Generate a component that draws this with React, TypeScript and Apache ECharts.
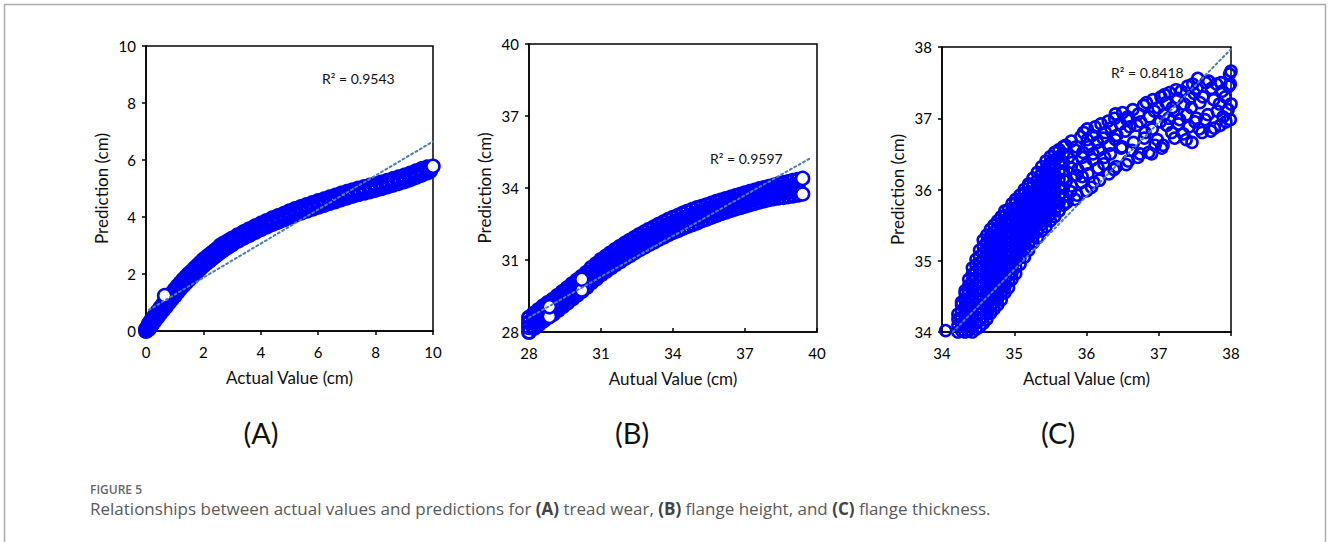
import React, { useEffect, useRef } from "react";
import * as echarts from "echarts";

// Each column: actual value, then the predictions read at that actual value.

// ---------- Panel A: tread wear ----------
const columnsA: [number, number[]][] = [
  [0, [0.0, 0.06]], [0.05, [0.04, 0.12]], [0.1, [0.08, 0.17, 0.25]], [0.15, [0.15, 0.24, 0.32]],
  [0.2, [0.22, 0.31, 0.4]], [0.3, [0.36, 0.45, 0.54]], [0.4, [0.49, 0.58, 0.68]], [0.5, [0.62, 0.72, 0.82]],
  [0.6, [0.75, 0.85, 0.95]], [0.7, [0.87, 0.97, 1.07]], [0.8, [1.0, 1.1, 1.2]], [0.9, [1.12, 1.22, 1.32]],
  [1.0, [1.24, 1.35, 1.45]], [1.1, [1.37, 1.47, 1.57]], [1.2, [1.49, 1.59, 1.69]], [1.3, [1.6, 1.7, 1.8]],
  [1.4, [1.71, 1.81, 1.91]], [1.5, [1.81, 1.91, 2.01]], [1.6, [1.9, 2.0, 2.1]], [1.7, [2.0, 2.1, 2.2]],
  [1.8, [2.1, 2.2, 2.3]], [1.9, [2.2, 2.3, 2.4]], [2.0, [2.3, 2.4, 2.5]], [2.1, [2.38, 2.48, 2.58]],
  [2.2, [2.46, 2.56, 2.66]], [2.3, [2.54, 2.64, 2.74]], [2.4, [2.62, 2.72, 2.82]], [2.5, [2.7, 2.8, 2.9]],
  [2.6, [2.78, 2.88, 3.0]], [2.7, [2.85, 2.95, 3.06]], [2.8, [2.92, 3.02, 3.12]], [2.9, [2.98, 3.08, 3.18]],
  [3.0, [3.04, 3.14, 3.24]], [3.2, [3.16, 3.26, 3.36]], [3.4, [3.27, 3.37, 3.47]], [3.6, [3.37, 3.47, 3.57]],
  [3.8, [3.47, 3.57, 3.67]], [4.0, [3.57, 3.67, 3.77]], [4.2, [3.66, 3.76, 3.86]], [4.4, [3.75, 3.85, 3.95]],
  [4.6, [3.83, 3.93, 4.03]], [4.8, [3.91, 4.01, 4.11]], [5.0, [4.0, 4.1, 4.2]], [5.2, [4.08, 4.18, 4.28]],
  [5.4, [4.15, 4.25, 4.35]], [5.6, [4.22, 4.32, 4.42]], [5.8, [4.29, 4.39, 4.49]], [6.0, [4.36, 4.46, 4.56]],
  [6.2, [4.42, 4.52, 4.62]], [6.4, [4.49, 4.59, 4.69]], [6.6, [4.55, 4.65, 4.75]], [6.8, [4.62, 4.72, 4.82]],
  [7.0, [4.68, 4.78, 4.88]], [7.2, [4.74, 4.84, 4.94]], [7.4, [4.8, 4.9, 5.0]], [7.6, [4.85, 4.95, 5.05]],
  [7.8, [4.9, 5.0, 5.1]], [8.0, [4.95, 5.05, 5.15]], [8.2, [5.01, 5.11, 5.21]], [8.4, [5.07, 5.17, 5.27]],
  [8.6, [5.13, 5.23, 5.33]], [8.8, [5.19, 5.29, 5.39]], [9.0, [5.25, 5.35, 5.45]], [9.2, [5.32, 5.42, 5.52]],
  [9.4, [5.4, 5.5, 5.6]], [9.6, [5.48, 5.58, 5.68]], [9.8, [5.56, 5.66, 5.74]], [9.9, [5.62, 5.7]],
];
const lastA: number[][] = [[0.65, 1.24], [10, 5.78]];
const trendA: number[][] = [[0.1, 0.74], [10, 6.65]];

// ---------- Panel B: flange height ----------
const columnsB: [number, number[]][] = [
  [28.0, [28.0, 28.2, 28.4, 28.6]], [28.2, [28.16, 28.36, 28.56, 28.76]], [28.4, [28.32, 28.52, 28.72, 28.92]],
  [28.6, [28.48, 28.68, 28.88, 29.08]], [28.8, [28.62, 28.82, 29.02, 29.22]], [29.0, [28.75, 28.95, 29.15, 29.35]],
  [29.2, [28.91, 29.11, 29.31, 29.51]], [29.4, [29.07, 29.27, 29.47, 29.67]], [29.6, [29.23, 29.43, 29.63, 29.83]],
  [29.8, [29.39, 29.59, 29.79, 29.99]], [30.0, [29.55, 29.75, 29.95, 30.15]], [30.2, [29.71, 29.91, 30.11, 30.31]],
  [30.4, [29.87, 30.07, 30.27, 30.47]], [30.6, [30.07, 30.27, 30.47, 30.67]], [30.8, [30.23, 30.43, 30.63, 30.83]],
  [31.0, [30.4, 30.6, 30.8, 31.0]], [31.2, [30.54, 30.74, 30.94, 31.14]], [31.4, [30.68, 30.88, 31.08, 31.28]],
  [31.6, [30.82, 31.02, 31.22, 31.42]], [31.8, [30.95, 31.15, 31.35, 31.55]], [32.0, [31.08, 31.28, 31.48, 31.68]],
  [32.2, [31.2, 31.4, 31.6, 31.8]], [32.4, [31.32, 31.52, 31.72, 31.92]], [32.6, [31.44, 31.64, 31.84, 32.04]],
  [32.8, [31.55, 31.75, 31.95, 32.15]], [33.0, [31.66, 31.86, 32.06, 32.26]], [33.2, [31.76, 31.96, 32.16, 32.36]],
  [33.4, [31.87, 32.07, 32.27, 32.47]], [33.6, [31.97, 32.17, 32.37, 32.57]], [33.8, [32.07, 32.27, 32.47, 32.67]],
  [34.0, [32.16, 32.36, 32.56, 32.76]], [34.2, [32.24, 32.44, 32.64, 32.84]], [34.4, [32.33, 32.53, 32.73, 32.93]],
  [34.6, [32.41, 32.61, 32.81, 33.01]], [34.8, [32.49, 32.69, 32.89, 33.09]], [35.0, [32.56, 32.76, 32.96, 33.16]],
  [35.2, [32.65, 32.83, 33.03, 33.22]], [35.4, [32.72, 32.9, 33.1, 33.28]], [35.6, [32.8, 32.97, 33.17, 33.35]],
  [35.8, [32.87, 33.04, 33.24, 33.42]], [36.0, [32.95, 33.11, 33.31, 33.48]], [36.2, [33.01, 33.17, 33.37, 33.54]],
  [36.4, [33.08, 33.24, 33.44, 33.6]], [36.6, [33.14, 33.3, 33.5, 33.66]], [36.8, [33.2, 33.36, 33.56, 33.72]],
  [37.0, [33.26, 33.42, 33.62, 33.78]], [37.2, [33.32, 33.48, 33.68, 33.84]], [37.4, [33.37, 33.53, 33.73, 33.89]],
  [37.6, [33.43, 33.59, 33.79, 33.95]], [37.8, [33.48, 33.64, 33.84, 34.0]], [38.0, [33.53, 33.69, 33.89, 34.05]],
  [38.2, [33.57, 33.73, 33.93, 34.1]], [38.4, [33.6, 33.78, 33.98, 34.16]], [38.6, [33.62, 33.82, 34.02, 34.2]],
  [38.8, [33.65, 33.86, 34.06, 34.25]], [39.0, [33.68, 33.89, 34.09, 34.3]], [39.2, [33.72, 33.92, 34.12, 34.34]],
];
const lastB: number[][] = [[28.85, 28.65], [28.85, 29.05], [30.2, 29.75], [30.2, 30.2], [39.4, 33.75], [39.4, 34.4]];
const trendB: number[][] = [[28, 28.6], [39.7, 35.23]];

// ---------- Panel C: flange thickness ----------
const columnsC: [number, number[]][] = [
  [34.05, [34.02]],
  [34.22, [34.0, 34.09, 34.18, 34.25]],
  [34.27, [34.02, 34.11, 34.2, 34.29, 34.38, 34.42]],
  [34.32, [34.0, 34.09, 34.18, 34.27, 34.36, 34.45, 34.54, 34.58]],
  [34.37, [34.02, 34.11, 34.2, 34.29, 34.38, 34.47, 34.56, 34.65, 34.74]],
  [34.42, [34.0, 34.09, 34.18, 34.27, 34.36, 34.45, 34.54, 34.63, 34.72, 34.81, 34.9]],
  [34.47, [34.04, 34.13, 34.22, 34.31, 34.4, 34.49, 34.58, 34.67, 34.76, 34.85, 34.94, 35.02]],
  [34.52, [34.07, 34.16, 34.25, 34.34, 34.43, 34.52, 34.61, 34.7, 34.79, 34.88, 34.97, 35.06, 35.15]],
  [34.57, [34.12, 34.21, 34.3, 34.39, 34.48, 34.57, 34.66, 34.75, 34.84, 34.93, 35.02, 35.11, 35.2, 35.29]],
  [34.62, [34.18, 34.27, 34.36, 34.45, 34.54, 34.63, 34.72, 34.81, 34.9, 34.99, 35.08, 35.17, 35.26, 35.36]],
  [34.67, [34.26, 34.35, 34.44, 34.53, 34.62, 34.71, 34.8, 34.89, 34.98, 35.07, 35.16, 35.25, 35.34, 35.44]],
  [34.72, [34.32, 34.41, 34.5, 34.59, 34.68, 34.77, 34.86, 34.95, 35.04, 35.13, 35.22, 35.31, 35.4, 35.5]],
  [34.77, [34.38, 34.47, 34.56, 34.65, 34.74, 34.83, 34.92, 35.01, 35.1, 35.19, 35.28, 35.37, 35.46, 35.56]],
  [34.82, [34.45, 34.54, 34.63, 34.72, 34.81, 34.9, 34.99, 35.08, 35.17, 35.26, 35.35, 35.44, 35.53, 35.62]],
  [34.87, [34.55, 34.64, 34.73, 34.82, 34.91, 35.0, 35.09, 35.18, 35.27, 35.36, 35.45, 35.54, 35.63, 35.7]],
  [34.92, [34.62, 34.71, 34.8, 34.89, 34.98, 35.07, 35.16, 35.25, 35.34, 35.43, 35.52, 35.61, 35.72]],
  [34.97, [34.74, 34.83, 34.92, 35.01, 35.1, 35.19, 35.28, 35.37, 35.46, 35.55, 35.64, 35.73, 35.8]],
  [35.02, [34.82, 34.91, 35.0, 35.09, 35.18, 35.27, 35.36, 35.45, 35.54, 35.63, 35.72, 35.81, 35.86]],
  [35.08, [34.95, 35.04, 35.13, 35.22, 35.31, 35.4, 35.49, 35.58, 35.67, 35.76, 35.85, 35.92]],
  [35.14, [35.05, 35.14, 35.23, 35.32, 35.41, 35.5, 35.59, 35.68, 35.77, 35.86, 35.95, 36.0]],
  [35.2, [35.15, 35.24, 35.33, 35.42, 35.51, 35.6, 35.69, 35.78, 35.87, 35.96, 36.05, 36.08]],
  [35.26, [35.25, 35.34, 35.43, 35.52, 35.61, 35.7, 35.79, 35.88, 35.97, 36.06, 36.16]],
  [35.32, [35.32, 35.41, 35.5, 35.59, 35.68, 35.77, 35.86, 35.95, 36.04, 36.13, 36.24]],
  [35.38, [35.42, 35.51, 35.6, 35.69, 35.78, 35.87, 35.96, 36.05, 36.14, 36.23, 36.32]],
  [35.44, [35.48, 35.57, 35.66, 35.75, 35.84, 35.93, 36.02, 36.11, 36.2, 36.29, 36.4]],
  [35.5, [35.56, 35.65, 35.74, 35.83, 35.92, 36.01, 36.1, 36.19, 36.28, 36.37, 36.46]],
  [35.56, [35.62, 35.72, 35.82, 35.92, 36.02, 36.12, 36.22, 36.32, 36.42, 36.52]],
  [35.62, [35.7, 35.81, 35.92, 36.03, 36.14, 36.25, 36.36, 36.46, 36.56]],
  [35.68, [35.78, 35.9, 36.02, 36.14, 36.26, 36.38, 36.5, 36.6]],
];
const sparseC: number[][] = [
  [35.73, 35.82], [35.78, 35.97], [35.72, 36.12], [35.79, 36.3], [35.75, 36.45], [35.71, 36.62],
  [35.84, 35.86], [35.79, 36.05], [35.86, 36.2], [35.8, 36.38], [35.85, 36.55], [35.79, 36.68],
  [35.87, 35.92], [35.93, 36.1], [35.88, 36.28], [35.94, 36.45], [35.86, 36.6], [35.92, 36.74],
  [36.0, 35.98], [35.94, 36.18], [35.99, 36.35], [35.95, 36.52], [36.01, 36.7], [35.96, 36.8],
  [36.07, 36.03], [36.02, 36.22], [36.09, 36.42], [36.03, 36.6], [36.08, 36.76], [36.01, 36.85],
  [36.1, 36.1], [36.16, 36.3], [36.09, 36.5], [36.15, 36.66], [36.12, 36.88],
  [36.18, 36.13], [36.24, 36.36], [36.17, 36.55], [36.23, 36.72], [36.2, 36.92],
  [36.31, 36.22], [36.25, 36.45], [36.32, 36.62], [36.26, 36.8], [36.3, 36.96],
  [36.38, 36.28], [36.33, 36.5], [36.4, 36.7], [36.34, 36.86], [36.39, 37.0],
  [36.41, 36.32], [36.48, 36.58], [36.42, 36.76], [36.47, 36.92], [36.4, 37.06],
  [36.55, 36.35], [36.49, 36.6], [36.54, 36.82], [36.56, 36.98], [36.5, 37.08],
  [36.58, 36.4], [36.63, 36.55], [36.6, 36.88], [36.57, 37.02], [36.64, 37.12],
  [36.71, 36.45], [36.65, 36.66], [36.7, 36.9], [36.72, 37.06],
  [36.74, 36.5], [36.8, 36.72], [36.75, 36.95], [36.79, 37.18],
  [36.86, 36.52], [36.81, 36.8], [36.87, 37.02], [36.83, 37.22],
  [36.9, 36.5], [36.95, 36.62], [36.91, 36.85], [36.94, 37.1], [36.92, 37.26],
  [37.04, 36.58], [36.98, 36.7], [37.02, 36.95], [36.99, 37.15], [37.03, 37.3],
  [37.06, 36.62], [37.11, 36.9], [37.07, 37.05], [37.1, 37.22], [37.08, 37.33],
  [37.18, 36.8], [37.14, 37.0], [37.19, 37.15], [37.15, 37.36],
  [37.22, 36.72], [37.27, 36.92], [37.21, 37.1], [37.26, 37.28], [37.24, 37.4],
  [37.34, 36.78], [37.29, 36.98], [37.35, 37.2], [37.31, 37.38],
  [37.38, 36.7], [37.42, 36.88], [37.39, 37.05], [37.43, 37.28], [37.4, 37.45],
  [37.46, 36.66], [37.5, 36.95], [37.45, 37.15], [37.49, 37.35], [37.47, 37.48],
  [37.56, 36.85], [37.52, 37.0], [37.57, 37.22], [37.53, 37.42], [37.54, 37.56],
  [37.6, 36.8], [37.64, 36.98], [37.61, 37.3], [37.65, 37.5],
  [37.72, 36.82], [37.68, 37.05], [37.73, 37.42], [37.69, 37.52],
  [37.77, 36.86], [37.81, 37.1], [37.76, 37.26], [37.8, 37.48],
  [37.85, 36.9], [37.89, 37.02], [37.84, 37.2], [37.88, 37.38], [37.86, 37.5],
  [37.93, 36.95], [37.96, 37.12], [37.92, 37.3], [37.97, 37.45], [37.98, 37.62],
  [37.99, 36.98], [38.0, 37.2], [37.99, 37.48], [38.0, 37.66],
];
const trendC: number[][] = [[34.15, 34], [38, 37.97]];

// ---------- texts ----------
const r2Labels = ["R² = 0.9543", "R² = 0.9597", "R² = 0.8418"];
const xTitles = ["Actual Value (cm)", "Autual Value (cm)", "Actual Value (cm)"];
const yTitle = "Prediction (cm)";
const panelLetters = ["(A)", "(B)", "(C)"];
const figureLabel = "FIGURE 5";
const captionText =
  "Relationships between actual values and predictions for {b|(A)} tread wear, {b|(B)} flange height, and {b|(C)} flange thickness.";

const axisRanges = [
  { min: 0, max: 10, interval: 2 },
  { min: 28, max: 40, interval: 3 },
  { min: 34, max: 38, interval: 1 },
];

const FONT = "Lato, 'Open Sans', sans-serif";
const CAP_FONT = "'Open Sans', 'Noto Sans', sans-serif";
const BLUE = "#0000ff";
const TREND = "#4a7ebb";

function flatten(cols: [number, number[]][]): number[][] {
  const out: number[][] = [];
  cols.forEach(([x, ys]) => ys.forEach((y) => out.push([x, y])));
  return out;
}

export default function App() {
  const ref = useRef<HTMLDivElement>(null);
  useEffect(() => {
    if (!ref.current) return;
    const chart = echarts.init(ref.current, undefined, { renderer: "svg" });
    const pointsA = flatten(columnsA);
    const pointsB = flatten(columnsB);
    const pointsC = flatten(columnsC).concat(sparseC);

    const grids = [
      { left: 146, top: 46, width: 287, height: 285 },
      { left: 529, top: 44, width: 288, height: 288 },
      { left: 942, top: 47, width: 289, height: 285 },
    ];
    const axisCommon = {
      axisLine: { show: true, lineStyle: { color: "#000", width: 1.5 } },
      axisTick: { show: true, length: 4, lineStyle: { color: "#000", width: 1.5 } },
      splitLine: { show: false },
      axisLabel: { color: "#000", fontSize: 15, fontFamily: FONT },
      nameTextStyle: { color: "#111", fontSize: 17, fontFamily: FONT },
    };
    const xAxes = axisRanges.map((r, i) => ({
      type: "value",
      gridIndex: i,
      ...r,
      ...axisCommon,
      axisTick: { ...axisCommon.axisTick, inside: i === 1 },
      axisLabel: { ...axisCommon.axisLabel, margin: 13 },
      name: xTitles[i],
      nameLocation: "middle",
      nameGap: 38,
    }));
    const yAxes = axisRanges.map((r, i) => ({
      type: "value",
      gridIndex: i,
      ...r,
      ...axisCommon,
      axisLabel: { ...axisCommon.axisLabel, margin: 10 },
      name: yTitle,
      nameLocation: "middle",
      nameGap: 36,
    }));
    const ringStyle = (fill: string, w: number) => ({
      color: fill,
      borderColor: BLUE,
      borderWidth: w,
      opacity: 1,
    });
    const scatterSeries = [
      { d: pointsA, i: 0, size: 13, w: 3, fill: "rgba(255,255,255,0)" },
      { d: pointsB, i: 1, size: 13, w: 3, fill: "rgba(255,255,255,0)" },
      { d: pointsC, i: 2, size: 11, w: 2.6, fill: "rgba(255,255,255,0)" },
      { d: lastA, i: 0, size: 13, w: 2.5, fill: "#ffffff" },
      { d: lastB, i: 1, size: 13, w: 2.5, fill: "#ffffff" },
    ].map((s) => ({
      type: "scatter",
      xAxisIndex: s.i,
      yAxisIndex: s.i,
      data: s.d,
      symbol: "circle",
      symbolSize: s.size,
      itemStyle: ringStyle(s.fill, s.w),
      silent: true,
    }));
    const trendSeries = [trendA, trendB, trendC].map((d, i) => ({
      type: "line",
      xAxisIndex: i,
      yAxisIndex: i,
      data: d,
      symbol: "none",
      lineStyle: { color: TREND, width: 2, type: [2, 3], cap: "round" },
      z: 5,
      silent: true,
    }));

    const r2Pos = [
      [322, 78],
      [710, 158],
      [1111, 72],
    ];
    const letterPos = [261, 632, 1058];

    chart.setOption({
      animation: false,
      backgroundColor: "#ffffff",
      grid: grids.map((g) => ({ ...g, show: true, borderColor: "#000", borderWidth: 1.5, backgroundColor: "transparent" })),
      xAxis: xAxes,
      yAxis: yAxes,
      series: [...scatterSeries, ...trendSeries],
      graphic: [
        {
          type: "rect",
          shape: { x: 4.5, y: 4.5, width: 1321, height: 600 },
          style: { fill: "none", stroke: "#ababab", lineWidth: 1.5 },
          silent: true,
        },
        ...r2Labels.map((t, i) => ({
          type: "text",
          x: r2Pos[i][0],
          y: r2Pos[i][1],
          style: { text: t, fontSize: 14, fontFamily: FONT, fill: "#111", textVerticalAlign: "middle" },
          z: 10,
        })),
        ...panelLetters.map((t, i) => ({
          type: "text",
          x: letterPos[i],
          y: 432,
          style: { text: t, fontSize: 29, fontFamily: FONT, fill: "#111", textAlign: "center", textVerticalAlign: "middle" },
        })),
        {
          type: "text",
          x: 90,
          y: 489,
          style: { text: figureLabel, fontSize: 12, fontFamily: CAP_FONT, fontWeight: 600, fill: "#666", textVerticalAlign: "middle" },
        },
        {
          type: "text",
          x: 90,
          y: 508,
          style: {
            text: captionText,
            fontSize: 17,
            fontFamily: CAP_FONT,
            fill: "#5a5a5a",
            textVerticalAlign: "middle",
            rich: {
              b: { fontSize: 17, fontFamily: CAP_FONT, fontWeight: "bold", fill: "#444" },
            },
          },
        },
      ],
    });
    return () => chart.dispose();
  }, []);
  return (
    <div
      ref={ref}
      style={{ position: "absolute", left: 0, top: 0, width: 1328, height: 542, background: "#fff" }}
    />
  );
}
